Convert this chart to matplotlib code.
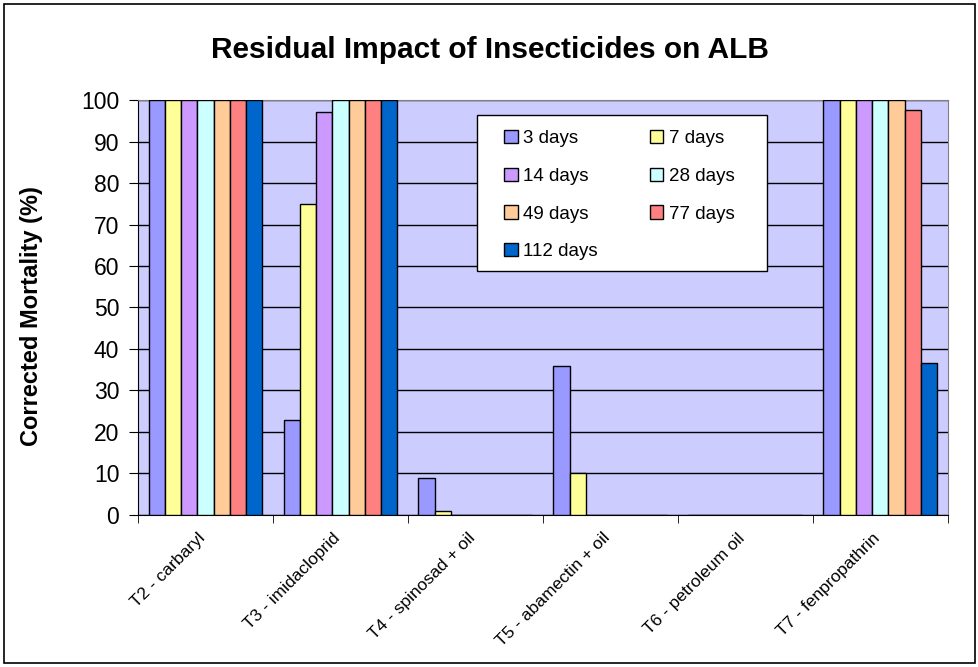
import numpy as np
import matplotlib
matplotlib.use('Agg')
import matplotlib.pyplot as plt
from matplotlib.patches import Rectangle

plt.rcParams['font.family'] = ['Liberation Sans', 'DejaVu Sans']

# %% data ---------------------------------------------------------------------
treatments = ['T2 - carbaryl', 'T3 - imidacloprid', 'T4 - spinosad + oil',
              'T5 - abamectin + oil', 'T6 - petroleum oil', 'T7 - fenpropathrin']
series_names = ['3 days', '7 days', '14 days', '28 days', '49 days', '77 days', '112 days']

d3 = [100, 23, 9, 36, 0, 100]
d7 = [100, 75, 1, 10, 0, 100]
d14 = [100, 97, 0, 0, 0, 100]
d28 = [100, 100, 0, 0, 0, 100]
d49 = [100, 100, 0, 0, 0, 100]
d77 = [100, 100, 0, 0, 0, 97.5]
d112 = [100, 100, 0, 0, 0, 36.5]

colors = ['#9999FF', '#FFFF99', '#CC99FF', '#CCFFFF', '#FFCC99', '#FF8080', '#0066CC']

# %% figure -------------------------------------------------------------------
fig = plt.figure(figsize=(9.79, 6.67), dpi=100)
fig.patches.append(Rectangle((0.004, 0.006), 0.992, 0.988, transform=fig.transFigure,
                             fill=False, edgecolor='black', lw=1.2))

ax = fig.add_axes([0.141, 0.228, 0.827, 0.622])
ax.set_facecolor('#CCCCFF')

all_series = [d3, d7, d14, d28, d49, d77, d112]
x = np.arange(len(treatments))
n = len(all_series)
bw = 1.0 / 8.3
bars = []
for i, (vals, c, name) in enumerate(zip(all_series, colors, series_names)):
    off = (i - (n - 1) / 2) * bw
    b = ax.bar(x + off, vals, bw, color=c, edgecolor='black', lw=1.0,
               label=name, zorder=3)
    bars.append(b)

ax.set_xlim(-0.5, len(treatments) - 0.5)
ax.set_ylim(0, 100)
ax.set_yticks(np.arange(0, 101, 10))
ax.yaxis.grid(True, color='black', lw=1.0, zorder=1)
ax.set_axisbelow(True)

# labels sit a little left of the group centre (rotated text)
ax.set_xticks(x - 0.06)
ax.set_xticklabels(treatments, rotation=45, ha='right', rotation_mode='anchor', fontsize=12.5)
ax.set_xticks(np.arange(-0.5, len(treatments), 1.0), minor=True)
ax.tick_params(axis='x', which='major', length=0, pad=11)
ax.tick_params(axis='x', which='minor', length=6, color='black')
ax.tick_params(axis='y', labelsize=16.5, length=6.5, pad=7, color='black')

for s in ax.spines.values():
    s.set_color('#808080')
ax.spines['left'].set_color('black')
ax.spines['bottom'].set_color('black')

ax.set_ylabel('Corrected Mortality (%)', fontsize=17, fontweight='bold')
ax.yaxis.set_label_coords(-0.117, 0.48)
fig.text(0.5, 0.913, 'Residual Impact of Insecticides on ALB', ha='center', va='baseline',
         fontsize=21.5, fontweight='bold')

#------------------ legend box
ax.add_patch(Rectangle((0.4185, 0.588), 0.358, 0.3759, transform=ax.transAxes,
                       facecolor='white', edgecolor='black', lw=1.0, zorder=4))

order = [0, 2, 4, 6, 1, 3, 5]
leg = ax.legend([bars[i] for i in order], [series_names[i] for i in order],
                ncol=2, loc='upper left', bbox_to_anchor=(0.4525, 0.928),
                fontsize=13.5, frameon=False, borderpad=0, borderaxespad=0,
                handlelength=0.7, handleheight=0.7, handletextpad=0.3,
                columnspacing=2.8, labelspacing=1.1)
leg.set_zorder(5)

plt.savefig('out.png', dpi=100)
